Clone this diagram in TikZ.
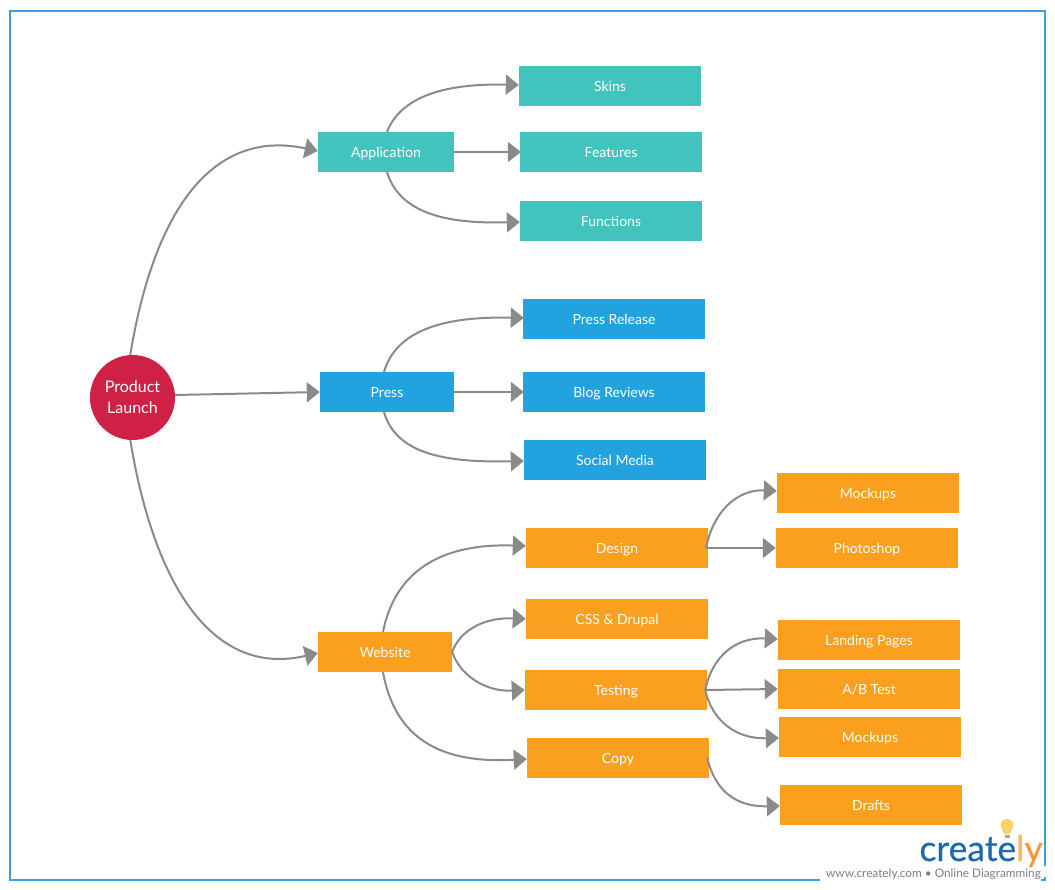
\documentclass[tikz,border=0pt]{standalone}
\usepackage{fontspec}
\setmainfont{Lato}
\newfontfamily\logofont[FakeBold=0.5]{Lato}
\usetikzlibrary{arrows.meta,calc}
\definecolor{teal1}{HTML}{43C3BD}
\definecolor{blue1}{HTML}{22A3E0}
\definecolor{orange1}{HTML}{FB9F1F}
\definecolor{red1}{HTML}{CF2046}
\definecolor{line1}{HTML}{8A8A8A}
\definecolor{frame1}{HTML}{3A9FDF}
\definecolor{logoblue}{HTML}{1B69AE}
\definecolor{logoorange}{HTML}{F6983B}
\definecolor{bulb}{HTML}{F6D26B}
\definecolor{taggray}{HTML}{7F7F7F}
\tikzset{
  x=1pt,y=-1pt,
  boxbase/.style={minimum height=40pt,inner sep=0pt,text=white,text height=10.4pt,text depth=0pt,font=\fontsize{14}{16}\selectfont},
  tealbox/.style={boxbase,fill=teal1},
  bluebox/.style={boxbase,fill=blue1},
  orangebox/.style={boxbase,fill=orange1},
  conn/.style={draw=line1,line width=2pt,-{Triangle[length=13pt,width=20pt,fill=line1]}},
}
\begin{document}
\begin{tikzpicture}
\useasboundingbox (0,0) rectangle (1055,890);
\draw[frame1,line width=2pt] (10,11) rectangle (1045,880);

\node[circle,fill=red1,minimum size=85pt,inner sep=0pt,text=white,align=center,text depth=-2pt,font=\fontsize{16}{21}\selectfont] (pl) at (132.5,397.5) {Product\\Launch};

\node[tealbox,minimum width=136pt] (app) at (386,152) {Application};
\node[tealbox,minimum width=182pt] (skins) at (610,86) {Skins};
\node[tealbox,minimum width=182pt] (feat) at (611,152) {Features};
\node[tealbox,minimum width=182pt] (func) at (611,221) {Functions};

\node[bluebox,minimum width=134pt] (press) at (387,392) {Press};
\node[bluebox,minimum width=182pt] (pr) at (614,319) {Press Release};
\node[bluebox,minimum width=182pt] (blog) at (614,392) {Blog Reviews};
\node[bluebox,minimum width=182pt] (social) at (615,460) {Social Media};

\node[orangebox,minimum width=134pt] (web) at (385,652) {Website};
\node[orangebox,minimum width=182pt] (design) at (617,548) {Design};
\node[orangebox,minimum width=182pt] (css) at (617,619) {CSS \& Drupal};
\node[orangebox,minimum width=182pt] (test) at (616,690) {Testing};
\node[orangebox,minimum width=182pt] (copy) at (618,758) {Copy};
\node[orangebox,minimum width=182pt] (mock1) at (868,493) {Mockups};
\node[orangebox,minimum width=182pt] (photo) at (867,548) {Photoshop};
\node[orangebox,minimum width=182pt] (land) at (869,640) {Landing Pages};
\node[orangebox,minimum width=182pt] (ab) at (869,689) {A/B Test};
\node[orangebox,minimum width=182pt] (mock2) at (870,737) {Mockups};
\node[orangebox,minimum width=182pt] (drafts) at (871,805) {Drafts};

% connectors
\draw[conn] (pl.93) .. controls (155,205) and (215,129) .. ($(app.west)+(0,-1)$);
\draw[conn] ($(pl.east)+(0,-2.5)$) -- (press.west);
\draw[conn] (pl.267) .. controls (155,590) and (215,677) .. ($(web.west)+(0,1)$);

\draw[conn] ($(app.north)+(1,0)$) .. controls (400,99) and (440,83) .. ($(skins.west)+(0,-1)$);
\draw[conn] (app.east) -- ($(feat.west)+(1,0)$);
\draw[conn] ($(app.south)+(1,0)$) .. controls (400,213) and (445,224) .. ($(func.west)+(0,1)$);

\draw[conn] ($(press.north)+(-3,0)$) .. controls (396,332) and (440,316) .. ($(pr.west)+(1,-1)$);
\draw[conn] (press.east) -- ($(blog.west)+(1,0)$);
\draw[conn] ($(press.south)+(-3,0)$) .. controls (396,452) and (440,463) .. ($(social.west)+(0,1)$);

\draw[conn] ($(web.north)+(-2,0)$) .. controls (395,572) and (440,543) .. ($(design.west)+(0,-2)$);
\draw[conn] (web.east) .. controls (460,630) and (485,617) .. (css.west);
\draw[conn] (web.east) .. controls (460,675) and (485,692) .. (test.west);
\draw[conn] ($(web.south)+(-2,0)$) .. controls (395,738) and (440,764) .. ($(copy.west)+(0,1)$);

\draw[conn] ($(design.east)+(-2,0)$) .. controls (712,515) and (735,489) .. ($(mock1.west)+(0,-2)$);
\draw[conn] ($(design.east)+(-2,0)$) -- (photo.west);
\draw[conn] ($(test.east)+(-2,0)$) .. controls (712,657) and (735,637) .. ($(land.west)+(0,-1)$);
\draw[conn] ($(test.east)+(-2,0)$) -- (ab.west);
\draw[conn] ($(test.east)+(-2,0)$) .. controls (712,720) and (735,739) .. ($(mock2.west)+(0,1)$);
\draw[conn] ($(copy.east)+(-2,0)$) .. controls (715,790) and (735,807) .. ($(drafts.west)+(0,1)$);

% logo
\fill[white] (820,866) rectangle (1047,877);
\fill[white] (820,877) rectangle (1041,886);
\node[inner sep=0pt,anchor=base east,font=\fontsize{35.5}{36}\logofont] (logo) at (1043,861) {\textcolor{logoblue}{create}\textcolor{bulb!60!logoorange}{l}\textcolor{logoorange}{y}};
\node[inner sep=0pt,anchor=base east,text=taggray,font=\fontsize{11.8}{13}\selectfont] (tag) at (1041,877.5) {www.creately.com • Online Diagramming};
\fill[bulb] (1007,819) .. controls (1012,819) and (1014,823) .. (1013.3,826) .. controls (1012.5,830) and (1010,831) .. (1010,834) -- (1004,834) .. controls (1004,831) and (1001.5,830) .. (1000.7,826) .. controls (1000,823) and (1002,819) .. (1007,819) -- cycle;
\fill[taggray!70] (1004.5,834.5) rectangle (1009.5,838);
\end{tikzpicture}
\end{document}
